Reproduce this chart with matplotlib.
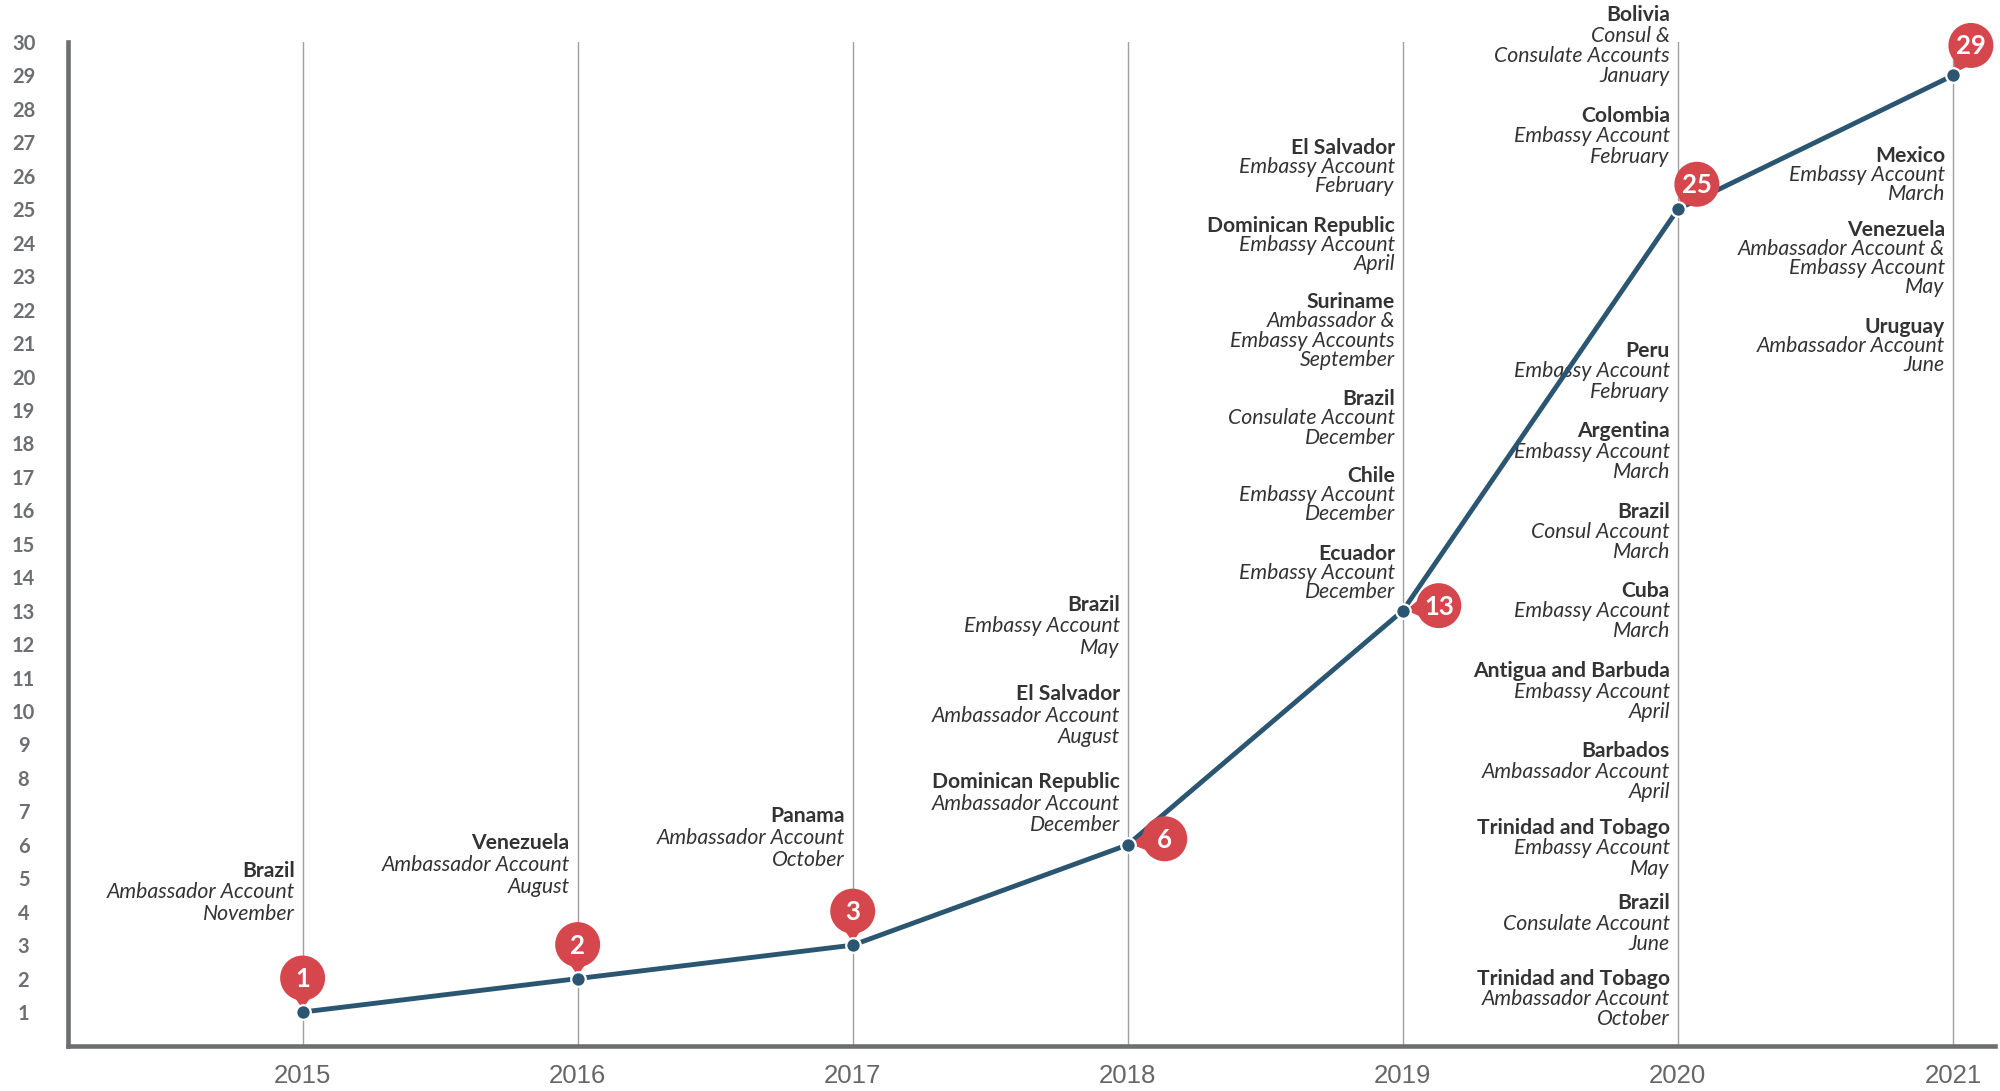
import numpy as np
import matplotlib
matplotlib.use("Agg")
import matplotlib.pyplot as plt
from matplotlib.patches import Circle, Polygon
from matplotlib.transforms import IdentityTransform

# cumulative accounts per year
years = [2015, 2016, 2017, 2018, 2019, 2020, 2021]
totals = [1, 2, 3, 6, 13, 25, 29]

# annotations: year, country, detail lines
notes = [
    (2015, "Brazil", ["Ambassador Account", "November"]),
    (2016, "Venezuela", ["Ambassador Account", "August"]),
    (2017, "Panama", ["Ambassador Account", "October"]),
    (2018, "Brazil", ["Embassy Account", "May"]),
    (2018, "El Salvador", ["Ambassador Account", "August"]),
    (2018, "Dominican Republic", ["Ambassador Account", "December"]),
    (2019, "El Salvador", ["Embassy Account", "February"]),
    (2019, "Dominican Republic", ["Embassy Account", "April"]),
    (2019, "Suriname", ["Ambassador &", "Embassy Accounts", "September"]),
    (2019, "Brazil", ["Consulate Account", "December"]),
    (2019, "Chile", ["Embassy Account", "December"]),
    (2019, "Ecuador", ["Embassy Account", "December"]),
    (2020, "Bolivia", ["Consul &", "Consulate Accounts", "January"]),
    (2020, "Colombia", ["Embassy Account", "February"]),
    (2020, "Peru", ["Embassy Account", "February"]),
    (2020, "Argentina", ["Embassy Account", "March"]),
    (2020, "Brazil", ["Consul Account", "March"]),
    (2020, "Cuba", ["Embassy Account", "March"]),
    (2020, "Antigua and Barbuda", ["Embassy Account", "April"]),
    (2020, "Barbados", ["Ambassador Account", "April"]),
    (2020, "Trinidad and Tobago", ["Embassy Account", "May"]),
    (2020, "Brazil", ["Consulate Account", "June"]),
    (2020, "Trinidad and Tobago", ["Ambassador Account", "October"]),
    (2021, "Mexico", ["Embassy Account", "March"]),
    (2021, "Venezuela", ["Ambassador Account &", "Embassy Account", "May"]),
    (2021, "Uruguay", ["Ambassador Account", "June"]),
]

# layout: vertical position of each note's first line (data units)
note_y = [5.23, 6.05, 6.85,
          13.18, 10.51, 7.88,
          26.83, 24.50, 22.22, 19.32, 17.03, 14.70,
          30.80, 27.79, 20.77, 18.36, 15.96, 13.60, 11.19, 8.79, 6.50, 4.25, 2.00,
          26.60, 24.39, 21.49]
line_step = {2015: 21.7, 2016: 21.7, 2017: 21.7, 2018: 21.7, 2019: 19.2, 2020: 20.4, 2021: 19.2}
# pin offsets in pixels (dx right, dy up)
pin_offset = [(0, 34), (0, 34), (0, 34), (37, 6), (36, 5), (19, 25), (18, 30)]

LINE = "#2b5672"
RED = "#d5474d"
GRAY = "#6d6e71"
TXT = "#333333"

fig = plt.figure(figsize=(20, 10.91), dpi=100)
ax = fig.add_axes([0.034, 0.0417, 0.9635, 0.9198])
ax.set_xlim(2014.147, 2021.153)
ax.set_ylim(0, 30)

for y in years:
    ax.axvline(y, color="#a0a0a0", lw=1.0, zorder=1)

ax.plot(years, totals, color=LINE, lw=3.5, zorder=3, solid_capstyle="round")
ax.plot(years, totals, "o", color=LINE, ms=10.5, mec="white", mew=1.6, zorder=6)

for s in ["top", "right"]:
    ax.spines[s].set_visible(False)
for s in ["left", "bottom"]:
    ax.spines[s].set_color(GRAY)
    ax.spines[s].set_linewidth(3.3)
    ax.spines[s].set_capstyle("projecting")

ax.set_yticks(range(1, 31))
ax.set_xticks(years)
ax.tick_params(axis="y", length=0, pad=32, labelsize=14.5, labelcolor=GRAY)
ax.tick_params(axis="x", length=0, pad=13, labelsize=18.5, labelcolor="#666666")
for lab in ax.get_yticklabels():
    lab.set_fontfamily("Lato")
    lab.set_fontweight("bold")
    lab.set_horizontalalignment("center")
for lab in ax.get_xticklabels():
    lab.set_fontfamily("Liberation Sans")

# notes beside the year gridlines
for (yr, name, lines), yy in zip(notes, note_y):
    step = line_step[yr]
    ax.annotate(name, xy=(yr, yy), xytext=(-8, 0), textcoords="offset pixels",
                ha="right", va="center", fontsize=15.2, fontfamily="Lato",
                fontweight="bold", color=TXT, zorder=2, annotation_clip=False)
    for k, ln in enumerate(lines, start=1):
        ax.annotate(ln, xy=(yr, yy), xytext=(-8, -k * step), textcoords="offset pixels",
                    ha="right", va="center", fontsize=15.3, fontfamily="Lato",
                    fontstyle="italic", color=TXT, zorder=2, annotation_clip=False)

# red pins with the running total
r = 22.5
for x, v, (dx, dy) in zip(years, totals, pin_offset):
    px, py = ax.transData.transform((x, v))
    cx, cy = px + dx, py + dy
    u = np.array([px - cx, py - cy])
    u = u / np.hypot(*u)
    n = np.array([-u[1], u[0]])
    base = np.array([cx, cy]) + u * (r - 9)
    tip = np.array([px, py]) - u * 3
    tri = Polygon([base + n * 12, base - n * 12, tip], closed=True,
                  facecolor=RED, edgecolor="none", transform=IdentityTransform(),
                  zorder=4, clip_on=False)
    ax.add_artist(tri)
    circ = Circle((cx, cy), r, facecolor=RED, edgecolor="none",
                  transform=IdentityTransform(), zorder=4, clip_on=False)
    ax.add_artist(circ)
    ax.annotate(str(v), xy=(x, v), xytext=(dx, dy - 1), textcoords="offset pixels",
                ha="center", va="center", fontsize=18.5, fontfamily="Lato",
                fontweight="bold", color="white", zorder=7, annotation_clip=False)

fig.savefig("out.png", dpi=100)
